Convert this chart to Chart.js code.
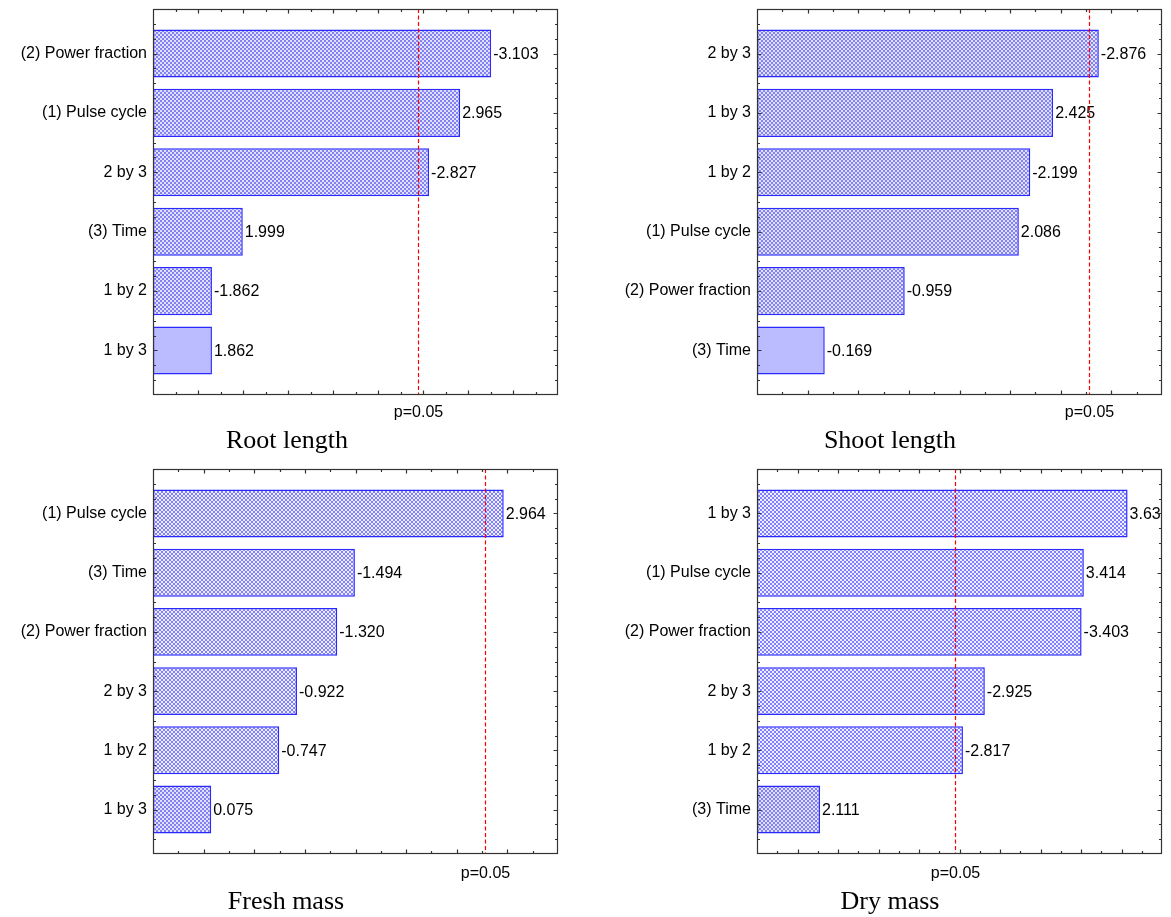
<!DOCTYPE html>
<html>
<head>
<meta charset="utf-8">
<script src="https://cdn.jsdelivr.net/npm/chart.js@4.4.0/dist/chart.umd.min.js"></script>
<style>
  html, body { margin: 0; padding: 0; background: #fff; }
  body { width: 1171px; height: 917px; position: relative; overflow: hidden; }
  canvas { position: absolute; }
</style>
</head>
<body>
<canvas id="c0" width="585" height="458" style="left:0;top:0"></canvas>
<canvas id="c1" width="586" height="458" style="left:585px;top:0"></canvas>
<canvas id="c2" width="585" height="459" style="left:0;top:458px"></canvas>
<canvas id="c3" width="586" height="459" style="left:585px;top:458px"></canvas>
<script>
// ---------------- DATA ----------------
const rootLabels  = ['(2) Power fraction', '(1) Pulse cycle', '2 by 3', '(3) Time', '1 by 2', '1 by 3'];
const rootValues  = [-3.103, 2.965, -2.827, 1.999, -1.862, 1.862];

const shootLabels = ['2 by 3', '1 by 3', '1 by 2', '(1) Pulse cycle', '(2) Power fraction', '(3) Time'];
const shootValues = [-2.876, 2.425, -2.199, 2.086, -0.959, -0.169];

const freshLabels = ['(1) Pulse cycle', '(3) Time', '(2) Power fraction', '2 by 3', '1 by 2', '1 by 3'];
const freshValues = [2.964, -1.494, -1.320, -0.922, -0.747, 0.075];

const dryLabels   = ['1 by 3', '(1) Pulse cycle', '(2) Power fraction', '2 by 3', '1 by 2', '(3) Time'];
const dryValues   = [3.630, 3.414, -3.403, -2.925, -2.817, 2.111];

const titles = ['Root length', 'Shoot length', 'Fresh mass', 'Dry mass'];
const pCrit = 2.776;          // critical t value at p = 0.05
const pLabel = 'p=0.05';

// axis ranges (absolute effect estimate)
const rootRange  = [1.6, 3.4];
const shootRange = [-0.5, 3.5];
const freshRange = [-0.5, 3.5];
const dryRange   = [1.8, 3.8];

// ---------------- STYLE / LAYOUT ----------------
const SANS = '"Liberation Sans", Arial, Helvetica, sans-serif';
const SERIF = '"Liberation Serif", "Times New Roman", serif';

const panels = [
  { id: 'c0', labels: rootLabels,  values: rootValues,  range: rootRange,  major: 0.2, minor: 0.1,
    title: titles[0], titleX: 287, titleY: 448, pY: 417,
    pad: { left: 0, top: 9, right: 27, bottom: 63 }, yW: 153,
    fills: ['fine', 'fine', 'fine', 'fine', 'fine', 'solid'] },
  { id: 'c1', labels: shootLabels, values: shootValues, range: shootRange, major: 0.5, minor: 0.25,
    title: titles[1], titleX: 305, titleY: 448, pY: 417,
    pad: { left: 15, top: 9, right: 9, bottom: 63 }, yW: 157,
    fills: ['fine', 'fine', 'fine', 'fine', 'fine', 'solid'] },
  { id: 'c2', labels: freshLabels, values: freshValues, range: freshRange, major: 0.5, minor: 0.25,
    title: titles[2], titleX: 286, titleY: 451, pY: 420,
    pad: { left: 0, top: 11, right: 27, bottom: 63 }, yW: 153,
    fills: ['dots', 'dots', 'dots', 'dots', 'dots', 'fine'] },
  { id: 'c3', labels: dryLabels,   values: dryValues,   range: dryRange,   major: 0.2, minor: 0.1,
    title: titles[3], titleX: 305, titleY: 451, pY: 420,
    pad: { left: 15, top: 11, right: 9, bottom: 63 }, yW: 157,
    fills: ['dots', 'dots', 'dots', 'dots', 'dots', 'fine'] }
];

function makePattern(ctx, rows, colors) {
  const c = document.createElement('canvas');
  c.width = rows[0].length; c.height = rows.length;
  const g = c.getContext('2d');
  rows.forEach((row, yy) => {
    for (let xx = 0; xx < row.length; xx++) {
      g.fillStyle = colors[row[xx]];
      g.fillRect(xx, yy, 1, 1);
    }
  });
  return ctx.createPattern(c, 'repeat');
}

const framePlugin = {
  id: 'frame',
  afterDatasetsDraw(chart) {
    const { ctx, chartArea: a, scales: { x, y } } = chart;
    const o = chart.options.plugins.frame;
    const meta = chart.getDatasetMeta(0);

    // value labels (clipped to the plot frame)
    ctx.save();
    ctx.beginPath();
    ctx.rect(a.left, a.top, a.right - a.left - 1, a.bottom - a.top);
    ctx.clip();
    ctx.font = '16px ' + SANS;
    ctx.fillStyle = '#000000';
    ctx.textAlign = 'left';
    ctx.textBaseline = 'middle';
    meta.data.forEach((bar, i) => {
      ctx.fillText(o.values[i].toFixed(3), bar.x + 2, bar.y + 1);
    });
    ctx.restore();

    // p = 0.05 reference line
    const px = Math.round(x.getPixelForValue(pCrit)) + 0.5;
    ctx.save();
    ctx.strokeStyle = 'rgb(255,0,0)';
    ctx.lineWidth = 1.2;
    ctx.setLineDash([4, 2.5]);
    ctx.beginPath();
    ctx.moveTo(px, a.top);
    ctx.lineTo(px, a.bottom);
    ctx.stroke();
    ctx.restore();

    // frame
    ctx.save();
    ctx.setLineDash([]);
    ctx.strokeStyle = '#333333';
    ctx.lineWidth = 1.2;
    const L = Math.round(a.left) + 0.5, R = Math.round(a.right) - 0.5;
    const T = Math.round(a.top) + 0.5, B = Math.round(a.bottom) - 0.5;
    ctx.strokeRect(L, T, R - L, B - T);

    // inward tick marks on all four sides
    ctx.beginPath();
    const [xmin, xmax] = o.range;
    const nx = Math.round((xmax - xmin) / o.minor);
    for (let k = 1; k < nx; k++) {
      const v = xmin + k * o.minor;
      const r = (v - xmin) / o.major;
      const isMajor = Math.abs(r - Math.round(r)) < 1e-6;
      const len = isMajor ? 4 : 2.5;
      const xp = Math.round(x.getPixelForValue(v)) + 0.5;
      ctx.moveTo(xp, B); ctx.lineTo(xp, B - len);
      ctx.moveTo(xp, T); ctx.lineTo(xp, T + len);
    }
    for (let k = 1; k < 26; k++) {
      const v = -0.75 + k * 0.25;
      const isMajor = Math.abs(v - Math.round(v)) < 1e-6;
      const len = isMajor ? 4 : 2.5;
      const yp = Math.round(y.getPixelForValue(v)) + 0.5;
      ctx.moveTo(L, yp); ctx.lineTo(L + len, yp);
      ctx.moveTo(R, yp); ctx.lineTo(R - len, yp);
    }
    ctx.stroke();
    ctx.restore();

    // p label under the axis
    ctx.save();
    ctx.font = '16px ' + SANS;
    ctx.fillStyle = '#000000';
    ctx.textAlign = 'center';
    ctx.textBaseline = 'alphabetic';
    ctx.fillText(pLabel, px, o.pY);
    // panel title
    ctx.font = '26px ' + SERIF;
    ctx.fillText(o.title, o.titleX, o.titleY);
    ctx.restore();
  }
};

panels.forEach(p => {
  const canvas = document.getElementById(p.id);
  const ctx = canvas.getContext('2d');
  const pats = {
    fine: makePattern(ctx, ['0011', '0011', '1100', '1100'], ['#8282f2', '#e0e0fc']),
    dots: makePattern(ctx, ['0110', '1001', '1001', '0110'], ['#8080fa', '#eeeeff']),
    solid: '#bbbbff'
  };
  new Chart(ctx, {
    type: 'bar',
    data: {
      datasets: [{
        data: p.values.map((v, i) => ({ x: Math.abs(v), y: i })),
        base: p.range[0],
        backgroundColor: p.fills.map(f => pats[f]),
        borderColor: '#2a2aff',
        borderWidth: 1.5,
        borderSkipped: false,
        barPercentage: 0.81,
        categoryPercentage: 1.0
      }]
    },
    options: {
      indexAxis: 'y',
      responsive: false,
      animation: false,
      devicePixelRatio: 1,
      events: [],
      layout: { padding: p.pad },
      plugins: {
        legend: { display: false },
        tooltip: { enabled: false },
        frame: { values: p.values, range: p.range, major: p.major, minor: p.minor,
                 title: p.title, titleX: p.titleX, titleY: p.titleY, pY: p.pY }
      },
      scales: {
        x: { type: 'linear', min: p.range[0], max: p.range[1], display: false, offset: false },
        y: {
          type: 'linear', min: -0.75, max: 5.75, reverse: true, offset: false,
          afterFit: s => { s.width = p.yW; s.paddingTop = 0; s.paddingBottom = 0; },
          afterBuildTicks: s => { s.ticks = p.labels.map((_, i) => ({ value: i })); },
          grid: { display: false, drawTicks: false },
          border: { display: false },
          ticks: {
            autoSkip: false,
            padding: 6,
            color: '#000',
            font: { family: SANS, size: 16 },
            callback: v => p.labels[v]
          }
        }
      }
    },
    plugins: [framePlugin]
  });
});
</script>
</body>
</html>
